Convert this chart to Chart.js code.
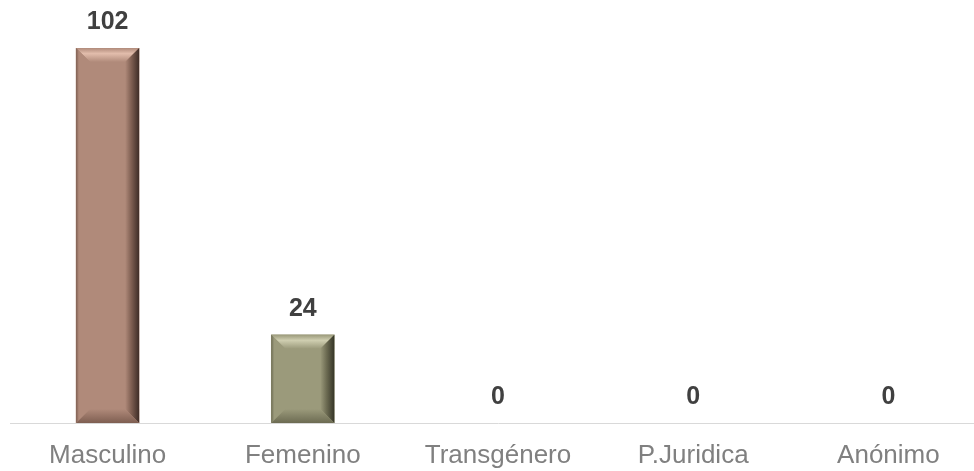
<!DOCTYPE html>
<html>
<head>
<meta charset="utf-8">
<script src="https://cdn.jsdelivr.net/npm/chart.js@4.4.0/dist/chart.umd.min.js"></script>
<style>
html,body{margin:0;padding:0;background:#fff;overflow:hidden;}
#wrap{width:974px;height:471px;overflow:hidden;}
</style>
</head>
<body>
<div id="wrap"><canvas id="c" width="986" height="471"></canvas></div>
<script>
const categories = ["Masculino", "Femenino", "Transgénero", "P.Juridica", "Anónimo"];
const values = [102, 24, 0, 0, 0];
const barColors = ["#B08A7A", "#9B9A7B", "#B08A7A", "#B08A7A", "#B08A7A"];
const highlightColors = ["#E2BDAC", "#CFCEB0", "#E2BDAC", "#E2BDAC", "#E2BDAC"];
const darkColors = ["#3F2D27", "#353527", "#3F2D27", "#3F2D27", "#3F2D27"];
const bottomColors = ["#7E5E51", "#6C6B52", "#7E5E51", "#7E5E51", "#7E5E51"];

const bevelPlugin = {
  id: 'bevel',
  afterDatasetsDraw(chart) {
    const ctx = chart.ctx;
    const meta = chart.getDatasetMeta(0);
    meta.data.forEach((bar, i) => {
      const L = bar.x - bar.width / 2, R = bar.x + bar.width / 2;
      const T = Math.min(bar.y, bar.base), B = Math.max(bar.y, bar.base);
      const h = B - T;
      if (h < 1) return;
      const s = Math.min(14, h / 2, (R - L) / 2);
      const main = barColors[i], hi = highlightColors[i], dk = darkColors[i], bt = bottomColors[i];
      ctx.save();
      // top bevel
      let g = ctx.createLinearGradient(0, T, 0, T + s);
      g.addColorStop(0, main);
      g.addColorStop(0.4, hi);
      g.addColorStop(1, main);
      ctx.fillStyle = g;
      ctx.beginPath();
      ctx.moveTo(L, T); ctx.lineTo(R, T); ctx.lineTo(R - s, T + s); ctx.lineTo(L + s, T + s); ctx.closePath(); ctx.fill();
      // left bevel
      g = ctx.createLinearGradient(L, 0, L + s, 0);
      g.addColorStop(0, bt);
      g.addColorStop(0.2, main);
      g.addColorStop(1, main);
      ctx.fillStyle = g;
      ctx.beginPath();
      ctx.moveTo(L, T); ctx.lineTo(L + s, T + s); ctx.lineTo(L + s, B - s); ctx.lineTo(L, B); ctx.closePath(); ctx.fill();
      // right bevel
      g = ctx.createLinearGradient(R - s, 0, R, 0);
      g.addColorStop(0, main);
      g.addColorStop(0.45, bt);
      g.addColorStop(1, dk);
      ctx.fillStyle = g;
      ctx.beginPath();
      ctx.moveTo(R, T); ctx.lineTo(R, B); ctx.lineTo(R - s, B - s); ctx.lineTo(R - s, T + s); ctx.closePath(); ctx.fill();
      // bottom bevel
      g = ctx.createLinearGradient(0, B - s, 0, B);
      g.addColorStop(0, main);
      g.addColorStop(1, bt);
      ctx.fillStyle = g;
      ctx.beginPath();
      ctx.moveTo(L, B); ctx.lineTo(R, B); ctx.lineTo(R - s, B - s); ctx.lineTo(L + s, B - s); ctx.closePath(); ctx.fill();
      ctx.restore();
    });
  },
  afterDraw(chart) {
    const ctx = chart.ctx;
    const meta = chart.getDatasetMeta(0);
    ctx.save();
    ctx.font = 'bold 25px "Liberation Sans", Arial, sans-serif';
    ctx.fillStyle = '#404040';
    ctx.textAlign = 'center';
    ctx.textBaseline = 'middle';
    meta.data.forEach((bar, i) => {
      ctx.fillText(String(values[i]), bar.x, Math.min(bar.y, bar.base) - 26);
    });
    ctx.restore();
  }
};

new Chart(document.getElementById('c'), {
  type: 'bar',
  data: {
    labels: categories,
    datasets: [{
      data: values,
      backgroundColor: (c) => (values[c.dataIndex] === 0 ? 'rgba(0,0,0,0)' : barColors[c.dataIndex]),
      borderWidth: 0,
      barThickness: 63
    }]
  },
  options: {
    responsive: false,
    animation: false,
    devicePixelRatio: 1,
    layout: { padding: { left: 10, right: 0, top: 48, bottom: 0 } },
    plugins: { legend: { display: false }, tooltip: { enabled: false } },
    scales: {
      x: {
        grid: { display: false },
        border: { display: true, color: '#D9D9D9', width: 1 },
        afterFit(scale) { scale.height = 48; },
        ticks: {
          color: '#808080',
          font: { family: '"Liberation Sans", Arial, sans-serif', size: 26 },
          padding: 9,
          maxRotation: 0,
          autoSkip: false
        }
      },
      y: {
        display: false,
        min: 0,
        max: 102
      }
    }
  },
  plugins: [bevelPlugin]
});
</script>
</body>
</html>
